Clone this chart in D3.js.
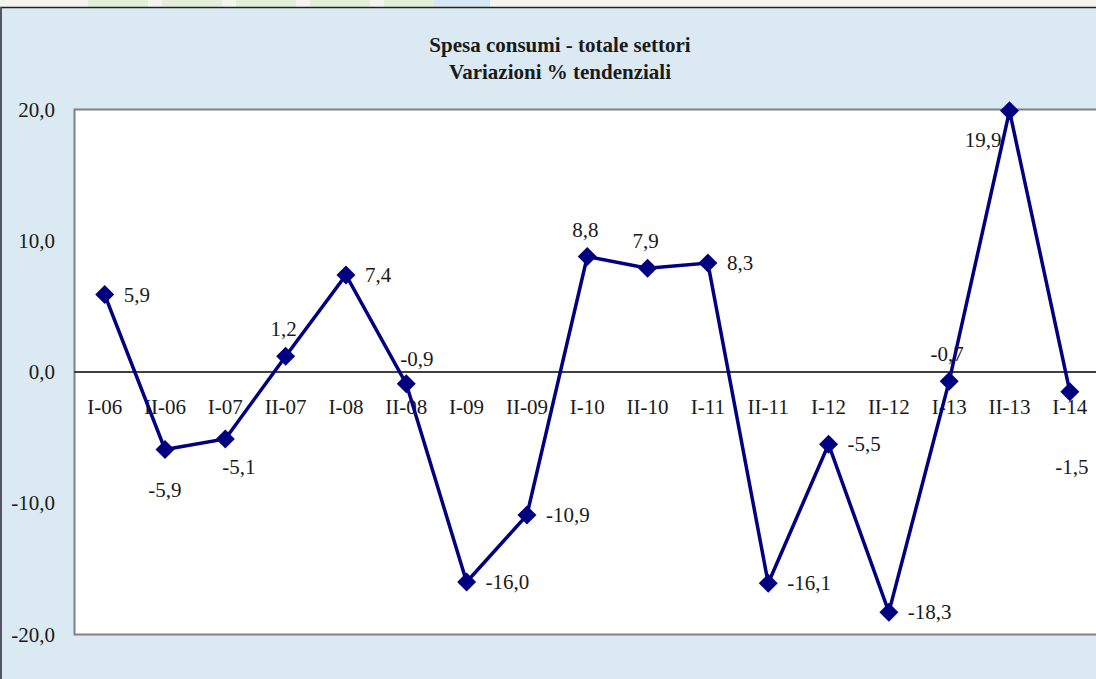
<!DOCTYPE html>
<html>
<head>
<meta charset="utf-8">
<script src="https://cdn.jsdelivr.net/npm/d3@7"></script>
<style>
  html, body { margin: 0; padding: 0; background: #f4f4ef; overflow: hidden; }
</style>
</head>
<body>
<div id="chart"></div>
<script>
// periodi semestrali
const periods = ["I-06","II-06","I-07","II-07","I-08","II-08","I-09","II-09","I-10",
                 "II-10","I-11","II-11","I-12","II-12","I-13","II-13","I-14"];
// variazioni % tendenziali
const values = [5.9,-5.9,-5.1,1.2,7.4,-0.9,-16.0,-10.9,8.8,7.9,8.3,-16.1,-5.5,-18.3,-0.7,19.9,-1.5];
// where each data label sits relative to its marker
const labelPos = ["r","b","rb","t","r","tr","r","r","t","t","r","r","r","r","t","lb","bb"];
const yTicks = [20,10,0,-10,-20];
const titleLines = ["Spesa consumi - totale settori", "Variazioni % tendenziali"];

const FONT = "'Liberation Serif', 'Times New Roman', serif";
const W = 1096, H = 679;
const plot = {left: 74.5, top: 109.5, right: 1100, bottom: 634.5};

const svg = d3.select("#chart").append("svg")
  .attr("width", W).attr("height", H)
  .style("display","block");

// strip of the page above the chart
svg.append("rect").attr("x",0).attr("y",0).attr("width",W).attr("height",7).attr("fill","#f4f4ef");
[[88,148],[162,222],[236,296],[310,370],[384,434]].forEach(b=>{
  svg.append("rect").attr("x",b[0]).attr("y",0).attr("width",b[1]-b[0]).attr("height",7).attr("fill","#e3eedb");
});
svg.append("rect").attr("x",434).attr("y",0).attr("width",56).attr("height",7).attr("fill","#d6e8f3");

// chart background + outer frame
svg.append("rect").attr("x",1).attr("y",7).attr("width",W).attr("height",H-7).attr("fill","#dbeaf2");
svg.append("line").attr("x1",0).attr("x2",W).attr("y1",7.5).attr("y2",7.5).attr("stroke","#222").attr("stroke-width",1.5);
svg.append("line").attr("x1",1).attr("x2",1).attr("y1",7).attr("y2",H).attr("stroke","#556").attr("stroke-width",2);

// plot area
svg.append("rect")
  .attr("x",plot.left).attr("y",plot.top)
  .attr("width",plot.right-plot.left).attr("height",plot.bottom-plot.top)
  .attr("fill","#fff").attr("stroke","#808080").attr("stroke-width",2);

const x = d3.scaleBand().domain(periods).range([plot.left, plot.right]);
const y = d3.scaleLinear().domain([-20,20]).range([plot.bottom, plot.top]);

// title
svg.append("text")
  .attr("x", 560).attr("y", 52)
  .attr("text-anchor","middle")
  .attr("font-family",FONT)
  .style("font-size","21px").style("font-weight","bold").attr("fill","#1a1a1a")
  .selectAll("tspan").data(titleLines).enter().append("tspan")
  .attr("x",560).attr("dy",(d,i)=> i ? 27 : 0)
  .text(d=>d);

// y axis labels
const fmt = v => d3.format(".1f")(v).replace(".", ",").replace("−","-");
svg.append("g").selectAll("text").data(yTicks).enter().append("text")
  .attr("x", 55).attr("y", d=>y(d)+7)
  .attr("text-anchor","end")
  .attr("font-family",FONT)
  .style("font-size","21px").attr("fill","#1a1a1a")
  .text(fmt);

// zero line
svg.append("line")
  .attr("x1",plot.left).attr("x2",plot.right)
  .attr("y1",y(0)).attr("y2",y(0))
  .attr("stroke","#000").attr("stroke-width",1.3);

// category labels under the zero line
svg.append("g").selectAll("text").data(periods).enter().append("text")
  .attr("x", d=>x(d)+x.bandwidth()/2)
  .attr("y", y(0)+42)
  .attr("text-anchor","middle")
  .attr("font-family",FONT)
  .style("font-size","21px").attr("fill","#1a1a1a")
  .text(d=>d);

const cx = (d,i) => x(periods[i]) + x.bandwidth()/2;

// line
const line = d3.line().x((d,i)=>cx(d,i)).y(d=>y(d));
svg.append("path").datum(values)
  .attr("d", line)
  .attr("fill","none").attr("stroke","#000080").attr("stroke-width",3.5)
  .attr("stroke-linejoin","miter");

// diamond markers
svg.append("g").selectAll("path").data(values).enter().append("path")
  .attr("transform",(d,i)=>`translate(${cx(d,i)},${y(d)})`)
  .attr("d","M0,-9.5L9.5,0L0,9.5L-9.5,0Z")
  .attr("fill","#000080");

// data labels
const off = {
  r:  [19, 7, "start"],
  b:  [0, 48, "middle"],
  bb: [2, 82, "middle"],
  rb: [-3, 35, "start"],
  t:  [-2, -20, "middle"],
  tr: [-6, -18, "start"],
  lb: [-8, 36, "end"]
};
svg.append("g").selectAll("text").data(values).enter().append("text")
  .attr("x",(d,i)=> cx(d,i) + off[labelPos[i]][0])
  .attr("y",(d,i)=> y(d) + off[labelPos[i]][1])
  .attr("text-anchor",(d,i)=> off[labelPos[i]][2])
  .attr("font-family",FONT)
  .style("font-size","21px").attr("fill","#1a1a1a")
  .text(fmt);
</script>
</body>
</html>
